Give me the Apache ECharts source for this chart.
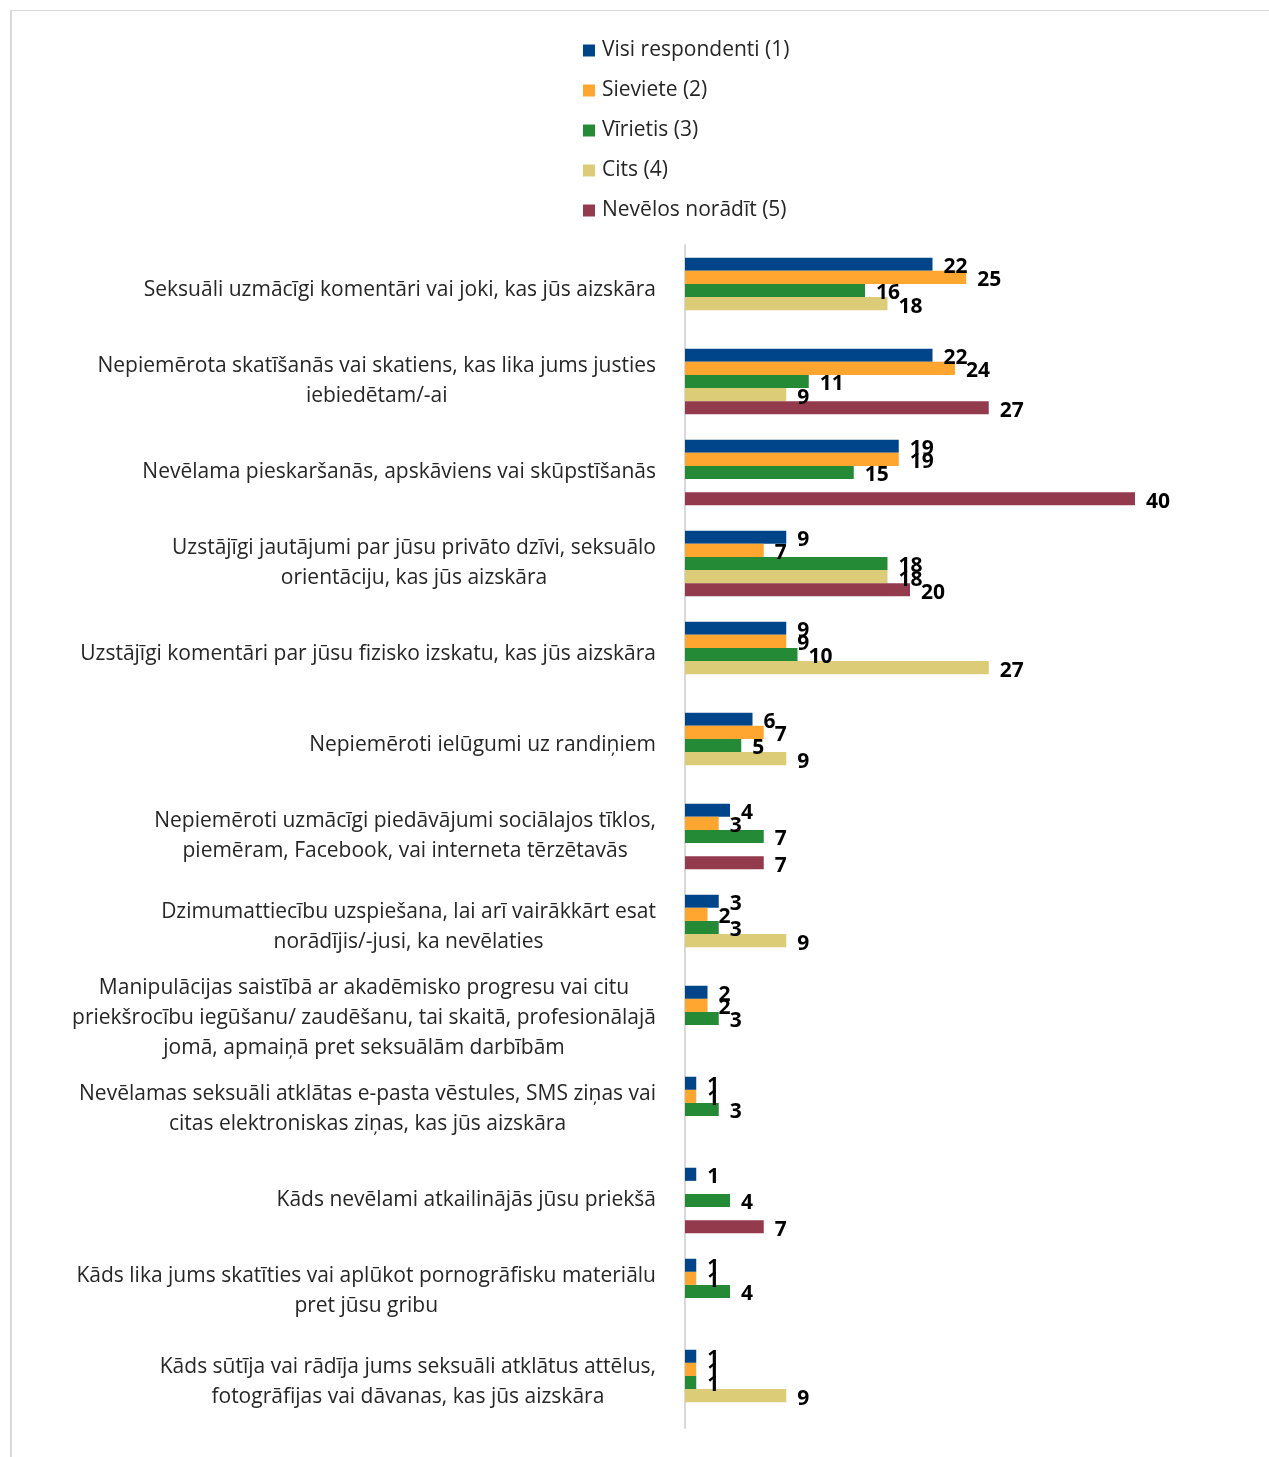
<!DOCTYPE html>
<html>
<head>
<meta charset="utf-8">
<script src="https://cdn.jsdelivr.net/npm/echarts@6/dist/echarts.min.js"></script>
<style>
  html, body { margin: 0; padding: 0; background: #ffffff; }
  #frame { position: absolute; left: 10px; top: 10px; width: 1300px; height: 1500px;
           border-top: 1px solid #d9d9d9; border-left: 2px solid #d9d9d9; box-sizing: border-box; }
  #chart { position: absolute; left: 0; top: 0; width: 1269px; height: 1457px; }
</style>
</head>
<body>
<div id="frame"></div>
<div id="chart"></div>
<script>
const categories = [
  "Seksuāli uzmācīgi komentāri vai joki, kas jūs aizskāra",
  "Nepiemērota skatīšanās vai skatiens, kas lika jums justies\niebiedētam/-ai",
  "Nevēlama pieskaršanās, apskāviens vai skūpstīšanās",
  "Uzstājīgi jautājumi par jūsu privāto dzīvi, seksuālo\norientāciju, kas jūs aizskāra",
  "Uzstājīgi komentāri par jūsu fizisko izskatu, kas jūs aizskāra",
  "Nepiemēroti ielūgumi uz randiņiem",
  "Nepiemēroti uzmācīgi piedāvājumi sociālajos tīklos,\npiemēram, Facebook, vai interneta tērzētavās",
  "Dzimumattiecību uzspiešana, lai arī vairākkārt esat\nnorādījis/-jusi, ka nevēlaties",
  "Manipulācijas saistībā ar akadēmisko progresu vai citu\npriekšrocību iegūšanu/ zaudēšanu, tai skaitā, profesionālajā\njomā, apmaiņā pret seksuālām darbībām",
  "Nevēlamas seksuāli atklātas e-pasta vēstules, SMS ziņas vai\ncitas elektroniskas ziņas, kas jūs aizskāra",
  "Kāds nevēlami atkailinājās jūsu priekšā",
  "Kāds lika jums skatīties vai aplūkot pornogrāfisku materiālu\npret jūsu gribu",
  "Kāds sūtīja vai rādīja jums seksuāli atklātus attēlus,\nfotogrāfijas vai dāvanas, kas jūs aizskāra"
];

const seriesNames = ["Visi respondenti (1)", "Sieviete (2)", "Vīrietis (3)", "Cits (4)", "Nevēlos norādīt (5)"];
const seriesColors = ["#00458a", "#ffa630", "#248a36", "#dccc78", "#943a4d"];

const visi     = [22, 22, 19, 9, 9, 6, 4, 3, 2, 1, 1, 1, 1];
const sieviete = [25, 24, 19, 7, 9, 7, 3, 2, 2, 1, null, 1, 1];
const virietis = [16, 11, 15, 18, 10, 5, 7, 3, 3, 3, 4, 4, 1];
const cits     = [18, 9, null, 18, 27, 9, null, 9, null, null, null, null, 9];
const nevelos  = [null, 27, 40, 20, null, null, 7, null, null, null, 7, null, null];

const seriesData = [visi, sieviete, virietis, cits, nevelos];

const FONT = "Open Sans";

const chart = echarts.init(document.getElementById('chart'), null, { renderer: 'canvas' });

const option = {
  backgroundColor: 'transparent',
  animation: false,
  legend: {
    orient: 'vertical',
    left: 578,
    top: 35,
    itemWidth: 12,
    itemHeight: 12,
    itemGap: 19,
    icon: 'rect',
    textStyle: { fontFamily: FONT, fontSize: 21, color: '#262626', padding: [0, 0, 0, 2] },
    data: seriesNames
  },
  grid: { left: 685, top: 245, right: 89, bottom: 29, containLabel: false },
  xAxis: {
    type: 'value',
    min: 0,
    max: 44,
    show: false,
    splitLine: { show: false }
  },
  yAxis: {
    type: 'category',
    inverse: true,
    data: categories,
    axisTick: { show: false },
    axisLine: { show: true, lineStyle: { color: '#d9d9d9', width: 2 } },
    axisLabel: {
      margin: 29,
      color: '#262626',
      fontFamily: FONT,
      fontSize: 21,
      formatter: function (v) {
        return v.split('\n').map(function (l) { return '{c|' + l + '}'; }).join('\n');
      },
      rich: {
        c: { align: 'center', fontFamily: FONT, fontSize: 21, lineHeight: 30, color: '#262626' }
      }
    }
  },
  series: seriesNames.map(function (name, i) {
    return {
      name: name,
      type: 'bar',
      data: seriesData[i],
      barGap: '0%',
      barCategoryGap: '28%',
      itemStyle: { color: seriesColors[i] },
      label: {
        show: true,
        position: 'right',
        distance: 11,
        offset: [0, 3],
        fontFamily: FONT,
        fontSize: 21,
        fontWeight: 'bold',
        color: '#000000'
      }
    };
  })
};

chart.setOption(option);
</script>
</body>
</html>
